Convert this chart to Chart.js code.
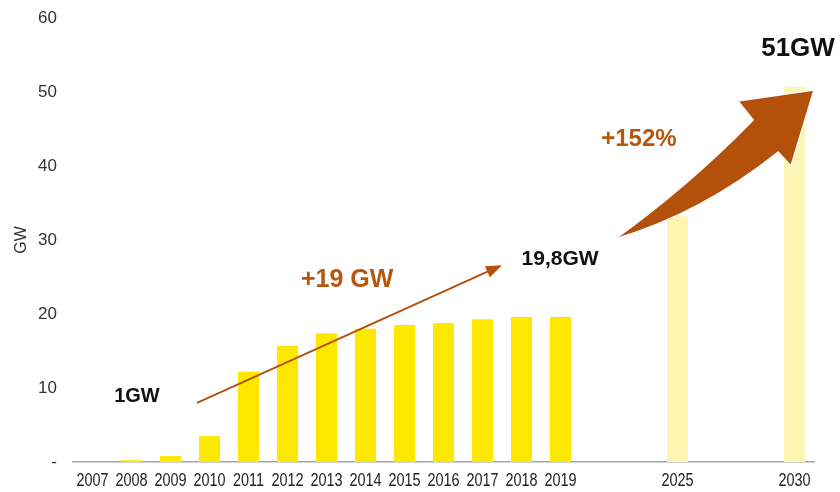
<!DOCTYPE html>
<html>
<head>
<meta charset="utf-8">
<script src="https://cdn.jsdelivr.net/npm/chart.js@4.4.0/dist/chart.umd.min.js"></script>
<style>
  body { margin: 0; background: #fff; }
  #wrap { width: 840px; height: 492px; }
</style>
</head>
<body>
<div id="wrap"><canvas id="capacityChart" width="840" height="492"></canvas></div>
<script>
// Installed capacity (GW), history + targets
const years = ['2007', '2008', '2009', '2010', '2011', '2012', '2013', '2014', '2015', '2016',
    '2017', '2018', '2019', '', '', '2025', '', '', '2030'];
const capacityGW = [0, 0.25, 0.8, 3.5, 12.2, 15.7, 17.4, 18.0, 18.5, 18.8,
    19.3, 19.6, 19.6, null, null, 33.2, null, null, 50.7];
const projected = [false, false, false, false, false, false, false, false, false, false,
    false, false, false, false, false, true, false, false, true];
const yTicks = [0, 10, 20, 30, 40, 50, 60];

const BROWN = '#B3500A';

// annotation spots, in [category index, GW]
const notes = [
    { text: '1GW', at: [1.14, 8.8], size: 20, color: '#111' },
    { text: '+19 GW', at: [6.53, 24.6], size: 25, color: '#B8560F' },
    { text: '19,8GW', at: [11.99, 27.4], size: 21, color: '#111' },
    { text: '+152%', at: [14.01, 43.6], size: 24, color: '#B8560F' },
    { text: '51GW', at: [18.09, 55.8], size: 26, color: '#111' }
];
const thinArrow = [[2.68, 8.0], [10.5, 26.6]];
const bigArrow = {
    tail: [13.40, 30.14],
    lowerCtrl: [15.63, 33.65],
    lowerJoin: [17.58, 41.89],
    headRight: [17.91, 40.0],
    tip: [18.50, 50.27],
    headLeft: [16.55, 48.78],
    upperJoin: [16.94, 46.22],
    upperCtrl: [15.32, 37.43]
};

// year labels are set in a narrow face, so squeeze them by hand
const yearLabels = {
    id: 'yearLabels',
    afterDraw(chart) {
        const ctx = chart.ctx;
        const x = chart.scales.x;
        ctx.save();
        ctx.font = '19px "Liberation Sans", Arial, sans-serif';
        ctx.fillStyle = '#222';
        ctx.textAlign = 'center';
        ctx.textBaseline = 'middle';
        years.forEach((yr, i) => {
            if (!yr) return;
            const px = x.getPixelForValue(i);
            ctx.save();
            ctx.translate(px, chart.chartArea.bottom + 19);
            ctx.scale(0.76, 1);
            ctx.fillText(yr, 0, 0);
            ctx.restore();
        });
        ctx.restore();
    }
};

const annotations = {
    id: 'annotations',
    afterDatasetsDraw(chart) {
        const ctx = chart.ctx;
        const x = chart.scales.x, y = chart.scales.y;
        const P = p => [x.getPixelForValue(p[0]), y.getPixelForValue(p[1])];
        ctx.save();

        // thin straight arrow
        const a = P(thinArrow[0]), b = P(thinArrow[1]);
        const ang = Math.atan2(b[1] - a[1], b[0] - a[0]);
        const hl = 16, hw = 6;
        ctx.strokeStyle = BROWN;
        ctx.lineWidth = 2;
        ctx.beginPath();
        ctx.moveTo(a[0], a[1]);
        ctx.lineTo(b[0] - Math.cos(ang) * hl * 0.8, b[1] - Math.sin(ang) * hl * 0.8);
        ctx.stroke();
        ctx.fillStyle = BROWN;
        ctx.beginPath();
        ctx.moveTo(b[0], b[1]);
        ctx.lineTo(b[0] - Math.cos(ang) * hl + Math.sin(ang) * hw, b[1] - Math.sin(ang) * hl - Math.cos(ang) * hw);
        ctx.lineTo(b[0] - Math.cos(ang) * hl - Math.sin(ang) * hw, b[1] - Math.sin(ang) * hl + Math.cos(ang) * hw);
        ctx.closePath();
        ctx.fill();

        // big curved arrow
        const g = {};
        for (const k in bigArrow) g[k] = P(bigArrow[k]);
        ctx.beginPath();
        ctx.moveTo(...g.tail);
        ctx.quadraticCurveTo(...g.lowerCtrl, ...g.lowerJoin);
        ctx.lineTo(...g.headRight);
        ctx.lineTo(...g.tip);
        ctx.lineTo(...g.headLeft);
        ctx.lineTo(...g.upperJoin);
        ctx.quadraticCurveTo(...g.upperCtrl, ...g.tail);
        ctx.closePath();
        ctx.fillStyle = BROWN;
        ctx.fill();
        ctx.strokeStyle = '#fff';
        ctx.lineWidth = 1.5;
        ctx.stroke();

        // labels
        ctx.textAlign = 'center';
        ctx.textBaseline = 'middle';
        notes.forEach(n => {
            const p = P(n.at);
            ctx.font = 'bold ' + n.size + 'px "Liberation Sans", Arial, sans-serif';
            ctx.fillStyle = n.color;
            ctx.fillText(n.text, p[0], p[1]);
        });
        ctx.restore();
    }
};

const ctx = document.getElementById('capacityChart').getContext('2d');

const capacityChart = new Chart(ctx, {
    type: 'bar',
    data: {
        labels: years,
        datasets: [{
            data: capacityGW,
            backgroundColor: projected.map(p => p ? '#FFF5B3' : '#FFE800'),
            barPercentage: 0.9,
            categoryPercentage: 0.6
        }]
    },
    options: {
        responsive: false,
        animation: false,
        layout: { padding: { left: 12, right: 26, top: 18, bottom: 0 } },
        plugins: {
            legend: { display: false },
            tooltip: { enabled: false }
        },
        scales: {
            x: {
                grid: { display: false, drawTicks: false },
                border: { display: true, color: '#a6a6a6', width: 1.5 },
                ticks: { display: false },
                afterFit(scale) { scale.height = 30; }
            },
            y: {
                min: 0,
                max: 60,
                afterBuildTicks(scale) { scale.ticks = yTicks.map(v => ({ value: v })); },
                grid: { display: false, drawTicks: false },
                border: { display: false },
                ticks: {
                    padding: 16,
                    color: '#333',
                    font: { family: '"Liberation Sans", Arial', size: 17 },
                    callback: v => v === 0 ? '-' : v
                },
                title: {
                    display: true,
                    text: 'GW',
                    color: '#333',
                    padding: 0,
                    font: { family: '"Liberation Sans", Arial', size: 16 }
                },
                afterFit(scale) {
                    scale.width = 61;
                    scale.paddingTop = 0;
                    scale.paddingBottom = 0;
                }
            }
        }
    },
    plugins: [annotations, yearLabels]
});
</script>
</body>
</html>
